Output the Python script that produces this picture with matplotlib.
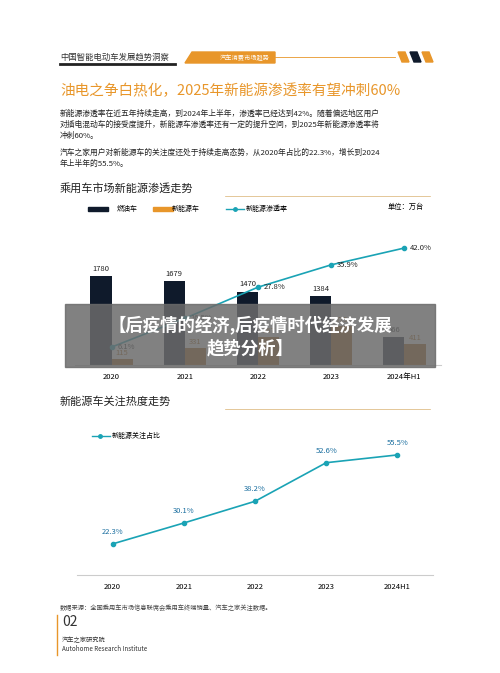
import matplotlib
matplotlib.use("Agg")
import matplotlib.pyplot as plt
import numpy as np

plt.rcParams['font.family'] = ['Noto Sans CJK SC', 'DejaVu Sans']

years = ["2020", "2021", "2022", "2023", "2024年H1"]
fuel = [1780, 1679, 1470, 1384, 566]
nev = [115, 331, 567, 775, 411]
rate = [6.1, 16.5, 27.8, 35.9, 42.0]
years2 = ["2020", "2021", "2022", "2023", "2024H1"]
attention = [22.3, 30.1, 38.2, 52.6, 55.5]

W, H = 500, 673
fig = plt.figure(figsize=(5, 6.73), dpi=100)
fig.patch.set_facecolor("white")
def fy(y): return 1 - y / H
def fx(x): return x / W
ORANGE = "#e8962a"; NAVY = "#0f1a2b"; BROWN = "#a55d0a"; TEAL = "#1aa3b5"

# header
fig.text(fx(60), fy(57), "中国智能电动车发展趋势洞察", fontsize=6, color="#333", va="center")
fig.add_artist(plt.Line2D([fx(60), fx(175)], [fy(64), fy(64)], color="#222", lw=2))
fig.add_artist(plt.Polygon([[fx(185), fy(63)], [fx(192), fy(52)], [fx(275), fy(52)], [fx(275), fy(63)]], color=ORANGE))
fig.text(fx(220), fy(58), "汽车消费市场趋势", fontsize=4.5, color="white", va="center")
fig.add_artist(plt.Line2D([fx(275), fx(395)], [fy(57), fy(57)], color=ORANGE, lw=0.6))
for i, c in enumerate([ORANGE, NAVY, ORANGE]):
    x0 = 398 + i * 12
    fig.add_artist(plt.Polygon([[fx(x0), fy(52)], [fx(x0+7), fy(52)], [fx(x0+11), fy(62)], [fx(x0+4), fy(62)]], color=c))

fig.text(fx(60), fy(91), "油电之争白热化，2025年新能源渗透率有望冲刺60%", fontsize=10.5, color=ORANGE, va="center")
body1 = "新能源渗透率在近五年持续走高，到2024年上半年，渗透率已经达到42%。随着偏远地区用户\n对插电混动车的接受度提升，新能源车渗透率还有一定的提升空间，到2025年新能源渗透率将\n冲刺60%。"
fig.text(fx(60), fy(110), body1, fontsize=5.6, color="#222", va="top", linespacing=1.45)
body2 = "汽车之家用户对新能源车的关注度还处于持续走高态势，从2020年占比的22.3%，增长到2024\n年上半年的55.5%。"
fig.text(fx(60), fy(149), body2, fontsize=5.6, color="#222", va="top", linespacing=1.45)

def section(y, title):
    fig.text(fx(60), fy(y), title, fontsize=8, color="#222", va="center")
    fig.add_artist(plt.Line2D([fx(225), fx(430)], [fy(y+8), fy(y+8)], color="#d9b070", lw=0.5))
section(188, "乘用车市场新能源渗透走势")
section(401, "新能源车关注热度走势")

# chart 1
ax = fig.add_axes([fx(75), fy(365), fx(366), (365-240)/H])
x = np.arange(len(years))
bw = 0.29
ax.bar(x - bw/2, fuel, bw, color=NAVY, label="燃油车")
ax.bar(x + bw/2, nev, bw, color=BROWN, label="新能源车")
for i in range(len(x)):
    ax.text(x[i]-bw/2, fuel[i]+60, str(fuel[i]), ha="center", va="bottom", fontsize=5.5, color="#222")
    ax.text(x[i]+bw/2, nev[i]+40, str(nev[i]), ha="center", va="bottom", fontsize=5.5, color=BROWN)
ax.set_ylim(0, 2500); ax.set_xlim(-0.5, 4.5)
ax.set_xticks(x); ax.set_xticklabels(years, fontsize=5.5)
ax.tick_params(length=0, pad=6); ax.set_yticks([])
for s in ax.spines.values(): s.set_visible(False)
ax.spines['bottom'].set_visible(True); ax.spines['bottom'].set_color("#ccc")
ax2 = ax.twinx()
ax2.plot(x, rate, color=TEAL, marker="o", ms=3, lw=1.2)
for i in range(len(x)):
    ax2.text(x[i]+0.08, rate[i], f"{rate[i]}%", fontsize=5.5, va="center", color="#222")
ax2.set_ylim(-0.4, 44.9); ax2.set_xlim(-0.5, 4.5); ax2.axis("off")
# legend
fig.add_artist(plt.Rectangle((fx(88), fy(211)), fx(20), 4/H, color=NAVY))
fig.text(fx(117), fy(209), "燃油车", fontsize=5, va="center")
fig.add_artist(plt.Rectangle((fx(153), fy(211)), fx(20), 4/H, color=ORANGE))
fig.text(fx(172), fy(209), "新能源车", fontsize=5, va="center")
fig.add_artist(plt.Line2D([fx(226), fx(244)], [fy(209), fy(209)], color=TEAL, lw=1))
fig.add_artist(plt.Line2D([fx(235)], [fy(209)], color=TEAL, marker="o", ms=2.5))
fig.text(fx(246), fy(209), "新能源渗透率", fontsize=5, va="center")
fig.text(fx(388), fy(207), "单位：万台", fontsize=5.2, va="center")

# chart 2
bx = fig.add_axes([fx(77), fy(575), fx(356), (575-430)/H])
bx.plot(x, attention, color=TEAL, marker="o", ms=3, lw=1.2)
for i in range(len(x)):
    bx.text(x[i], attention[i]+3, f"{attention[i]}%", fontsize=5.5, ha="center", va="bottom", color="#1b6fa0")
bx.set_ylim(10.7, 64.8); bx.set_xlim(-0.5, 4.5)
bx.set_xticks(x); bx.set_xticklabels(years2, fontsize=5.5)
bx.tick_params(length=0, pad=6); bx.set_yticks([])
for s in bx.spines.values(): s.set_visible(False)
bx.spines['bottom'].set_visible(True); bx.spines['bottom'].set_color("#ccc")
fig.add_artist(plt.Line2D([fx(92), fx(110)], [fy(436), fy(436)], color=TEAL, lw=1))
fig.add_artist(plt.Line2D([fx(100)], [fy(436)], color=TEAL, marker="o", ms=2.5))
fig.text(fx(112), fy(436), "新能源关注占比", fontsize=5, va="center")

# footer
fig.text(fx(60), fy(608), "数据来源：全国乘用车市场信息联席会乘用车终端销量、汽车之家关注数据。", fontsize=4.5, color="#444", va="center")
fig.add_artist(plt.Line2D([fx(57), fx(57)], [fy(615), fy(655)], color=ORANGE, lw=1))
fig.text(fx(62), fy(622), "02", fontsize=10, color="#333", va="center")
fig.text(fx(62), fy(640), "汽车之家研究院", fontsize=4.5, color="#333", va="center")
fig.text(fx(62), fy(649), "Autohome Research Institute", fontsize=4.5, color="#333", va="center")

# overlay banner
fig.add_artist(plt.Rectangle((fx(65), fy(367)), fx(370), (367-304)/H, color="#6b6b6b", alpha=0.85, zorder=10))
fig.text(0.5, fy(325), "【后疫情的经济,后疫情时代经济发展", fontsize=12.5, color="white", ha="center", va="center", weight="bold", zorder=11)
fig.text(0.5, fy(348), "趋势分析】", fontsize=12.5, color="white", ha="center", va="center", weight="bold", zorder=11)

fig.savefig("out.png", dpi=100)
